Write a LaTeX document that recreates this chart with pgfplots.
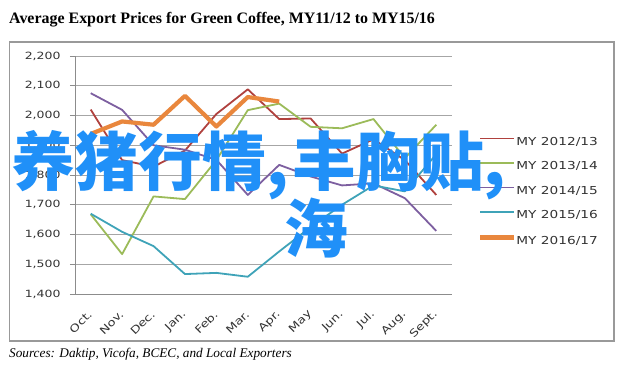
\documentclass[border=0pt]{standalone}
\usepackage{fontspec}
\setmainfont{Liberation Serif}
\newfontfamily\axfont{DejaVu Sans}[FakeStretch=1.25]
\newfontfamily\cjk{Noto Sans CJK SC}
\usepackage{pgfplots}
\pgfplotsset{compat=1.18}
\definecolor{cRed}{HTML}{B0413E}
\definecolor{cGreen}{HTML}{9BBB59}
\definecolor{cPurple}{HTML}{7D5FA0}
\definecolor{cTeal}{HTML}{3FA3B8}
\definecolor{cOrange}{HTML}{E9873D}
\definecolor{wmBlue}{HTML}{2090F8}
\begin{document}
\begin{tikzpicture}
\path[use as bounding box] (0bp,0bp) rectangle (628bp,-372bp);
\node[anchor=base west, inner sep=0pt, font=\bfseries\fontsize{16}{18}\selectfont] at (9bp,-23bp) {Average Export Prices for Green Coffee, MY11/12 to MY15/16};
\draw[black!40, line width=1.3bp] (9.5bp,-42bp) rectangle (614bp,-341bp);
\node[anchor=base west, inner sep=0pt, font=\itshape\fontsize{13.3}{15}\selectfont] at (9bp,-357bp) {Sources: Daktip, Vicofa, BCEC, and Local Exporters};
\begin{axis}[
  at={(75bp,-294bp)}, anchor=south west,
  scale only axis, width=377bp, height=238bp,
  xmin=0, xmax=12, ymin=1400, ymax=2200,
  axis x line*=bottom, axis y line*=left,
  axis line style={black!45, line width=0.8bp},
  ytick={1400,1500,...,2200},
  ymajorgrids, grid style={black!35, line width=0.8bp},
  tick align=outside, major tick length=5bp, minor tick length=4bp,
  tick style={black!45, line width=0.8bp},
  xtick={0.5,1.5,...,11.5},
  xticklabels={Oct.,Nov.,Dec.,Jan.,Feb.,Mar.,Apr.,May,Jun.,Jul.,Aug.,Sept.},
  x tick style={draw=none},
  minor xtick={0,1,...,12},
  minor x tick style={black!45, line width=0.8bp},
  xticklabel style={font=\axfont\fontsize{10.5}{12}\selectfont, text=black!80, yshift=-11bp, xshift=2bp, rotate=45, anchor=east},
  yticklabel style={font=\axfont\fontsize{10}{12}\selectfont, text=black!80, xshift=-6bp},
  /pgf/number format/1000 sep={,},
  /pgf/number format/assume math mode=true,
  legend cell align=left,
  legend style={at={(1.069,0.4286)}, anchor=west, draw=none, fill=none,
    font=\axfont\fontsize{11}{13}\selectfont, text=black!80,
    inner sep=0pt, row sep=14.5bp,
    nodes={inner sep=0pt, text height=8bp, text depth=2bp},
    /tikz/every even column/.append style={column sep=3bp}},
  legend image code/.code={\draw[#1] (0bp,4bp) -- (34bp,4bp);},
]
\addplot[cRed, line width=1.8bp, line join=round] coordinates {(0.5,2020) (1.5,1850) (2.5,1828) (3.5,1882) (4.5,2005) (5.5,2088) (6.5,1988) (7.5,1990) (8.5,1872) (9.5,1920) (10.5,1850) (11.5,1733)};
\addlegendentry{MY 2012/13}
\addplot[cGreen, line width=1.8bp, line join=round] coordinates {(0.5,1668) (1.5,1534) (2.5,1728) (3.5,1719) (4.5,1850) (5.5,2018) (6.5,2040) (7.5,1962) (8.5,1957) (9.5,1988) (10.5,1857) (11.5,1969)};
\addlegendentry{MY 2013/14}
\addplot[cPurple, line width=1.8bp, line join=round] coordinates {(0.5,2075) (1.5,2019) (2.5,1900) (3.5,1885) (4.5,1851) (5.5,1733) (6.5,1834) (7.5,1795) (8.5,1765) (9.5,1772) (10.5,1722) (11.5,1612)};
\addlegendentry{MY 2014/15}
\addplot[cTeal, line width=1.8bp, line join=round] coordinates {(0.5,1670) (1.5,1609) (2.5,1561) (3.5,1467) (4.5,1471) (5.5,1458) (6.5,1543) (7.5,1625) (8.5,1700) (9.5,1765) (10.5,1745) (11.5,1870)};
\addlegendentry{MY 2015/16}
\addplot[cOrange, line width=4.2bp, line join=round] coordinates {(0.5,1938) (1.5,1980) (2.5,1969) (3.5,2066) (4.5,1963) (5.5,2062) (6.5,2047)};
\addlegendentry{MY 2016/17}
\end{axis}
\node[anchor=base west, inner sep=0pt, text=wmBlue, font=\cjk\bfseries\fontsize{64}{68}\selectfont] at (11bp,-185bp) {养猪行情,\hspace{4bp}丰胸贴,};
\node[anchor=base west, inner sep=0pt, text=wmBlue, font=\cjk\bfseries\fontsize{64}{68}\selectfont] at (284bp,-252bp) {海};
\end{tikzpicture}
\end{document}
